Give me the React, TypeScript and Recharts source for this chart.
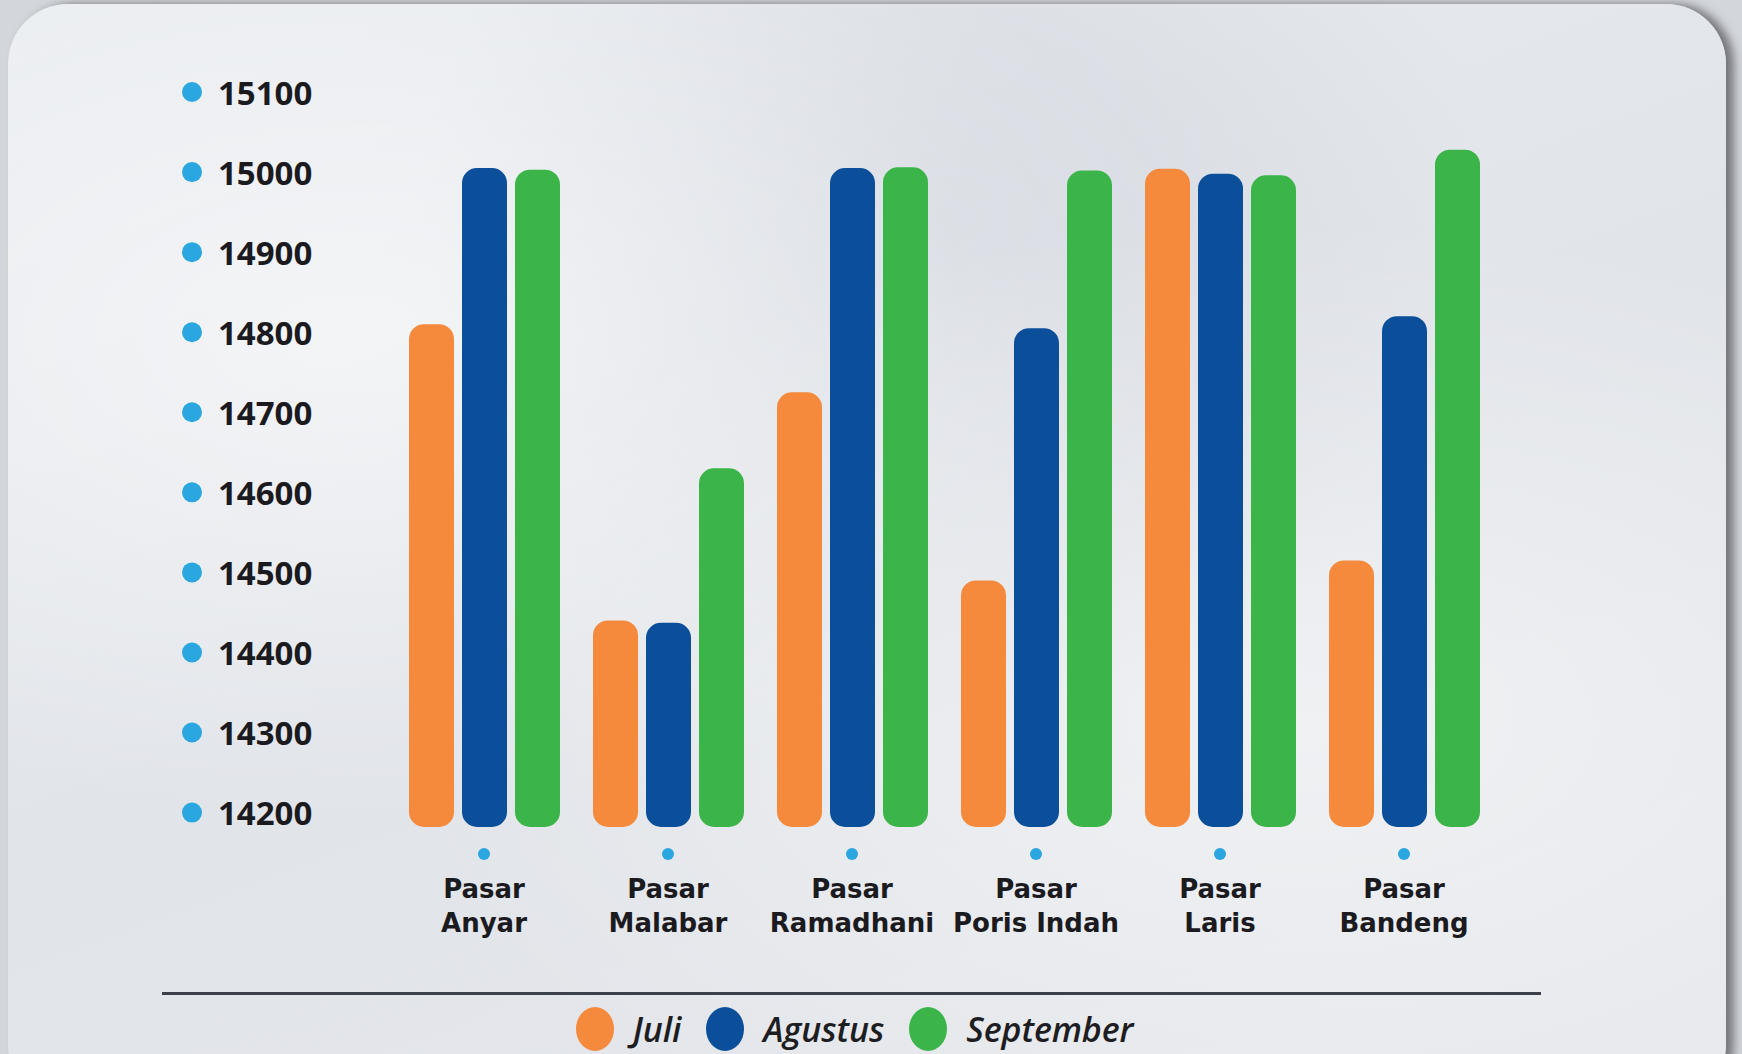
import React from "react";
import { BarChart, Bar, XAxis, YAxis, Legend } from "recharts";

const categories = [
  "Pasar Anyar",
  "Pasar Malabar",
  "Pasar Ramadhani",
  "Pasar Poris Indah",
  "Pasar Laris",
  "Pasar Bandeng",
];
const juli = [14810, 14440, 14725, 14490, 15004, 14515];
const agustus = [15005, 14437, 15005, 14805, 14998, 14820];
const september = [15003, 14630, 15006, 15002, 14996, 15028];
const yTicks = [14200, 14300, 14400, 14500, 14600, 14700, 14800, 14900, 15000, 15100];
const seriesNames = ["Juli", "Agustus", "September"];
const colors = ["#f58a3d", "#0b4f9b", "#3bb54a"];

const data = categories.map((name, i) => ({
  name,
  Juli: juli[i],
  Agustus: agustus[i],
  September: september[i],
}));

const FONT = "'Open Sans', 'Lato', sans-serif";
const XFONT = "'DejaVu Sans', 'Open Sans', sans-serif";

const YTick = (props: any) => {
  const { x, y, payload } = props;
  return (
    <g>
      <circle cx={x - 200} cy={y} r={10} fill="#2aa6e0" />
      <text
        x={x - 174}
        y={y}
        dominantBaseline="central"
        textAnchor="start"
        fontFamily={FONT}
        fontWeight={700}
        fontSize={33}
        fill="#1b1b1f"
      >
        {payload.value}
      </text>
    </g>
  );
};

const XTick = (props: any) => {
  const { x, y, payload } = props;
  const parts = String(payload.value).split(" ");
  const first = parts[0];
  const rest = parts.slice(1).join(" ");
  return (
    <g>
      <circle cx={x} cy={y + 27} r={6} fill="#2aa6e0" />
      <text
        x={x}
        y={y + 62}
        dominantBaseline="central"
        textAnchor="middle"
        fontFamily={XFONT}
        fontWeight={700}
        fontSize={26}
        fill="#1b1b1f"
      >
        {first}
      </text>
      <text
        x={x}
        y={y + 96}
        dominantBaseline="central"
        textAnchor="middle"
        fontFamily={XFONT}
        fontWeight={700}
        fontSize={26}
        fill="#1b1b1f"
      >
        {rest}
      </text>
    </g>
  );
};

const LegendContent = (props: any) => {
  const payload = [...(props.payload || [])].sort(
    (a: any, b: any) => seriesNames.indexOf(a.value) - seriesNames.indexOf(b.value)
  );
  return (
    <div style={{ width: 1742, position: "relative" }}>
      <div
        style={{
          position: "absolute",
          left: 162,
          width: 1379,
          top: 16,
          height: 3,
          background: "#3b4049",
        }}
      />
      <div
        style={{
          position: "absolute",
          top: 30,
          left: 0,
          width: 1708,
          display: "flex",
          justifyContent: "center",
          alignItems: "center",
        }}
      >
        <div style={{ display: "flex", alignItems: "center", marginLeft: 0 }}>
          {payload.map((p: any, i: number) => (
            <div
              key={p.value}
              style={{ display: "flex", alignItems: "center", marginLeft: i === 0 ? 0 : 24 }}
            >
              <svg width={40} height={46} style={{ marginRight: 18 }}>
                <ellipse cx={20} cy={23} rx={19} ry={22} fill={p.color} />
              </svg>
              <span
                style={{
                  fontFamily: FONT,
                  fontStyle: "italic",
                  fontWeight: 600,
                  fontSize: 34,
                  lineHeight: "40px",
                  color: "#1d1d22",
                  letterSpacing: -0.1,
                }}
              >
                {p.value}
              </span>
            </div>
          ))}
        </div>
      </div>
    </div>
  );
};

export default function App() {
  return (
    <div
      style={{
        position: "absolute",
        left: 0,
        top: 0,
        width: 1742,
        height: 1054,
        overflow: "hidden",
        background: "#d3d6db",
      }}
    >
      <div
        style={{
          position: "absolute",
          left: 8,
          top: 4,
          width: 1718,
          height: 1100,
          borderRadius: 60,
          background:
            "radial-gradient(ellipse at 20% 30%, rgba(255,255,255,0.55), rgba(255,255,255,0) 45%), radial-gradient(ellipse at 75% 65%, rgba(255,255,255,0.45), rgba(255,255,255,0) 50%), radial-gradient(ellipse at 55% 20%, rgba(200,205,215,0.5), rgba(200,205,215,0) 40%), linear-gradient(160deg, #e9ecf0 0%, #e1e4e9 50%, #e6e8ec 100%)",
          boxShadow: "8px 0 10px rgba(40,40,45,0.55)",
        }}
      />
      <div style={{ position: "absolute", left: 0, top: 0 }}>
        <BarChart
          width={1742}
          height={1054}
          data={data}
          margin={{ top: 92, right: 246, bottom: 97, left: 0 }}
          barGap={8}
          barSize={45}
        >
          <XAxis
            dataKey="name"
            axisLine={false}
            tickLine={false}
            tickSize={0}
            tickMargin={0}
            height={130}
            tick={<XTick />}
            interval={0}
          />
          <YAxis
            width={392}
            domain={[14182, 15100]}
            ticks={yTicks}
            allowDataOverflow
            axisLine={false}
            tickLine={false}
            tickSize={0}
            tickMargin={0}
            tick={<YTick />}
            interval={0}
          />
          <Legend
            verticalAlign="middle"
            align="center"
            layout="horizontal"
            wrapperStyle={{ top: 976, left: 0, width: 1742 }}
            content={<LegendContent />}
          />
          {seriesNames.map((s, i) => (
            <Bar
              key={s}
              dataKey={s}
              fill={colors[i]}
              radius={[15, 15, 15, 15]}
              isAnimationActive={false}
            />
          ))}
        </BarChart>
      </div>
    </div>
  );
}
